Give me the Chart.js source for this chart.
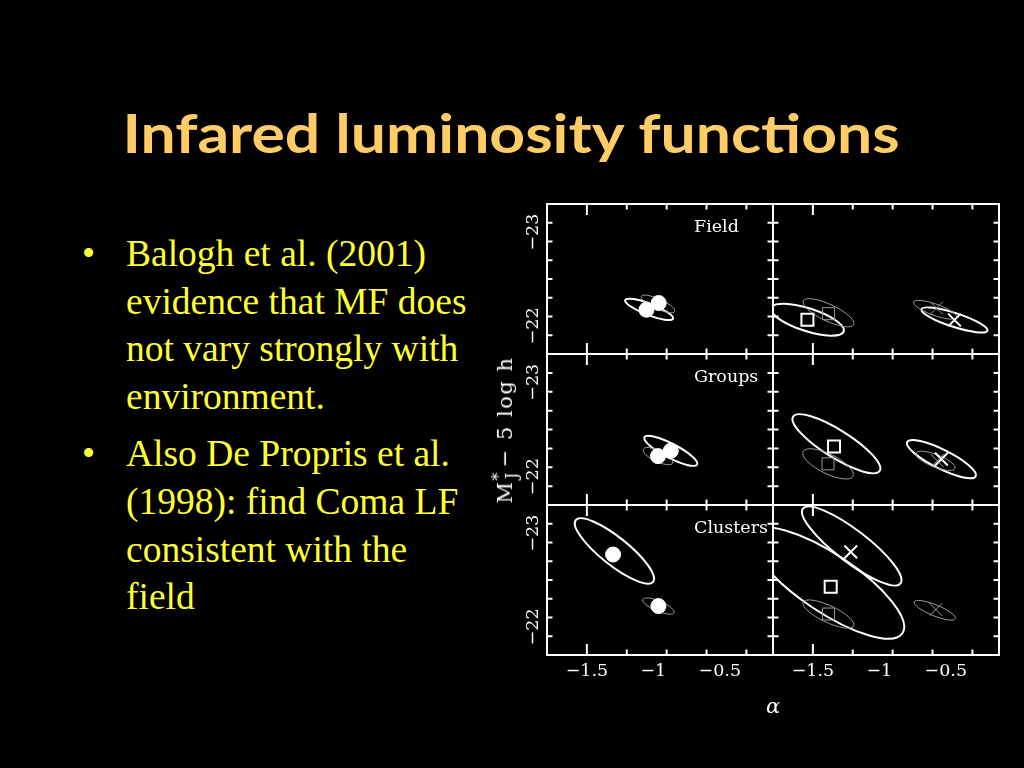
<!DOCTYPE html>
<html>
<head>
<meta charset="utf-8">
<script src="https://cdn.jsdelivr.net/npm/chart.js@4.4.0/dist/chart.umd.min.js"></script>
<style>
  html, body { margin: 0; padding: 0; background: #000; }
  body { width: 1024px; height: 768px; position: relative; overflow: hidden; }
  #title {
    position: absolute; left: 0; width: 1023px; top: 101px; text-align: center;
    color: #FFCC66; font-family: "Lato"; font-weight: bold; font-size: 53px; white-space: nowrap;
  }
  #title span { display: inline-block; }
  #bullets {
    position: absolute; left: 80px; top: 230px; margin: 0; padding: 0; list-style: none;
    font-family: "Liberation Serif"; font-size: 37.5px; line-height: 47.7px; color: #FFFF33; white-space: nowrap;
  }
  #bullets li { position: relative; padding-left: 46px; margin-bottom: 9.5px; }
  #bullets li::before { content: "\2022"; position: absolute; left: 2px; }
  #figure { position: absolute; left: 490px; top: 190px; width: 530px; height: 510px; }
  #figure canvas { position: absolute; left: 0; top: 0; }
  #ylab {
    position: absolute; left: 505px; top: 430px; transform: translate(-50%, -50%) rotate(-90deg);
    color: #fff; font-family: "DejaVu Serif"; font-size: 21px; letter-spacing: 1.5px; white-space: nowrap;
  }
  #ylab sup { font-size: 0.75em; }
  #ylab sub { font-size: 0.75em; margin-left: -0.5em; margin-right: 0.25em; }
  #xlab {
    position: absolute; left: 773px; top: 706px; transform: translate(-50%, -50%);
    color: #fff; font-family: "DejaVu Serif"; font-style: italic; font-size: 21px;
  }
</style>
</head>
<body>
<div id="title"><span id="titleText">Infared luminosity functions</span></div>
<ul id="bullets">
  <li>Balogh et al. (2001)<br>evidence that MF does<br>not vary strongly with<br>environment.</li>
  <li>Also De Propris et al.<br>(1998): find Coma LF<br>consistent with the<br>field</li>
</ul>
<div id="figure">
  <canvas id="p0" width="530" height="510"></canvas>
  <canvas id="p1" width="530" height="510"></canvas>
  <canvas id="p2" width="530" height="510"></canvas>
  <canvas id="p3" width="530" height="510"></canvas>
  <canvas id="p4" width="530" height="510"></canvas>
  <canvas id="p5" width="530" height="510"></canvas>
</div>
<div id="ylab">M<sup>*</sup><sub>J</sub>&minus; 5 log h</div>
<div id="xlab">&alpha;</div>
<script>
// ejes
const alphaRange = [-1.8, -0.1];
const magRange = [-23.3, -21.7];
const alphaTicks = [-1.5, -1, -0.5];
const magTicks = [-23, -22];
const panelNames = ["Field", "", "Groups", "", "Clusters", ""];

// circulos llenos (columna izquierda)
const dotPanel = [0, 0, 2, 2, 4, 4];
const dotAlpha = [-1.052, -0.960, -0.965, -0.869, -1.303, -0.962];
const dotMag = [-22.172, -22.244, -22.218, -22.274, -22.772, -22.222];

// cuadrados y cruces (columna derecha)
const markPanel = [1, 3, 5];
const boxAlpha = [-1.541, -1.341, -1.366];
const boxMag = [-22.066, -22.321, -22.428];
const thinBoxAlpha = [-1.382, -1.386, -1.383];
const thinBoxMag = [-22.130, -22.136, -22.137];
const crossAlpha = [-0.435, -0.533, -1.215];
const crossMag = [-22.063, -22.186, -22.800];
const thinCrossAlpha = [-0.570, -0.565, -0.575];
const thinCrossMag = [-22.190, -22.170, -22.185];

// elipses: centro, punta del eje mayor, razon b/a, gruesa o fina
const ellPanel = [0, 0, 1, 1, 1, 1, 2, 2, 3, 3, 3, 3, 4, 4, 5, 5, 5, 5];
const ellThick = [1, 0, 1, 0, 1, 0, 1, 0, 1, 0, 1, 0, 1, 0, 1, 1, 0, 0];
const ellAlpha = [-1.032, -0.965, -1.541, -1.383, -0.435, -0.581, -0.869, -0.965, -1.323, -1.386, -0.533, -0.578, -1.293, -0.962, -1.208, -1.388, -1.383, -0.583];
const ellMag = [-22.176, -22.234, -22.066, -22.140, -22.063, -22.172, -22.274, -22.218, -22.349, -22.136, -22.186, -22.168, -22.810, -22.222, -22.863, -22.467, -22.137, -22.177];
const ellTipAlpha = [-0.852, -0.839, -1.268, -1.193, -0.187, -0.420, -0.671, -0.854, -0.997, -1.198, -0.275, -0.431, -1.002, -0.844, -0.841, -0.826, -1.193, -0.428];
const ellTipMag = [-22.077, -22.154, -21.941, -22.013, -21.949, -22.090, -22.130, -22.145, -22.062, -22.005, -22.005, -22.087, -22.481, -22.151, -22.464, -21.932, -22.010, -22.087];
const ellRatio = [0.22, 0.28, 0.30, 0.30, 0.20, 0.25, 0.24, 0.35, 0.27, 0.35, 0.25, 0.30, 0.28, 0.30, 0.26, 0.32, 0.30, 0.25];

const WHITE = "#ffffff";
const GREY = "#9a9a9a";
const FIG_W = 530, FIG_H = 510;
const colLeft = [57, 283], colWidth = 226;
const rowTop = [14, 164, 315], rowBottom = [164, 315, 465];

// ajustar el titulo al ancho del original
const tt = document.getElementById("titleText");
tt.style.transform = "scaleX(" + (777 / tt.offsetWidth) + ")";

function pick(panel, panels, xs, ys) {
  const out = [];
  panels.forEach((p, i) => {
    if (p === panel) out.push({ x: xs[i], y: ys[i] });
  });
  return out;
}

const fmt = (v) => (v < 0 ? "\u2212" : "") + Math.abs(v);

const panelPlugin = {
  id: "panel",
  beforeDatasetsDraw(chart, args, opts) {
    const { ctx, chartArea: a, scales: { x, y } } = chart;
    ctx.save();
    ctx.beginPath();
    ctx.rect(a.left, a.top, a.right - a.left, a.bottom - a.top);
    ctx.clip();
    ellPanel.forEach((p, i) => {
      if (p !== opts.index) return;
      const cx = x.getPixelForValue(ellAlpha[i]);
      const cy = y.getPixelForValue(ellMag[i]);
      const tx = x.getPixelForValue(ellTipAlpha[i]);
      const ty = y.getPixelForValue(ellTipMag[i]);
      const r = Math.hypot(tx - cx, ty - cy);
      ctx.beginPath();
      ctx.ellipse(cx, cy, r, r * ellRatio[i], Math.atan2(ty - cy, tx - cx), 0, Math.PI * 2);
      ctx.strokeStyle = ellThick[i] ? WHITE : GREY;
      ctx.lineWidth = ellThick[i] ? 2 : 1;
      ctx.stroke();
    });
    ctx.restore();
  },
  afterDraw(chart, args, opts) {
    const { ctx, chartArea: a, scales: { x, y } } = chart;
    const idx = opts.index;
    ctx.save();
    ctx.strokeStyle = WHITE;
    ctx.lineWidth = 2;
    ctx.strokeRect(a.left, a.top, a.right - a.left, a.bottom - a.top);
    ctx.beginPath();
    x.ticks.forEach((t) => {
      const px = x.getPixelForValue(t.value);
      if (px <= a.left + 2 || px >= a.right - 2) return;
      const len = Math.abs(t.value * 2 - Math.round(t.value * 2)) < 1e-6 ? 11 : 5.5;
      ctx.moveTo(px, a.top); ctx.lineTo(px, a.top + len);
      ctx.moveTo(px, a.bottom); ctx.lineTo(px, a.bottom - len);
    });
    y.ticks.forEach((t) => {
      const py = y.getPixelForValue(t.value);
      if (py <= a.top + 2 || py >= a.bottom - 2) return;
      const len = Math.abs(t.value - Math.round(t.value)) < 1e-6 ? 11 : 5.5;
      ctx.moveTo(a.left, py); ctx.lineTo(a.left + len, py);
      ctx.moveTo(a.right, py); ctx.lineTo(a.right - len, py);
    });
    ctx.stroke();

    ctx.fillStyle = WHITE;
    if (panelNames[idx]) {
      ctx.font = '17.5px "DejaVu Serif"';
      ctx.textAlign = "left";
      ctx.textBaseline = "middle";
      ctx.fillText(panelNames[idx], a.left + 147, a.top + 23);
    }
    ctx.font = '17.5px "DejaVu Serif"';
    if (idx % 2 === 0) {
      magTicks.forEach((v) => {
        ctx.save();
        ctx.translate(a.left - 14, y.getPixelForValue(v));
        ctx.rotate(-Math.PI / 2);
        ctx.textAlign = "center";
        ctx.textBaseline = "middle";
        ctx.fillText(fmt(v), 0, 0);
        ctx.restore();
      });
    }
    if (idx >= 4) {
      ctx.textAlign = "center";
      ctx.textBaseline = "middle";
      alphaTicks.forEach((v) => {
        ctx.fillText(fmt(v), x.getPixelForValue(v), a.bottom + 16);
      });
    }
    ctx.restore();
  },
};

for (let p = 0; p < 6; p++) {
  const col = p % 2, row = Math.floor(p / 2);
  new Chart(document.getElementById("p" + p), {
    type: "scatter",
    data: {
      datasets: [
        {
          data: pick(p, dotPanel, dotAlpha, dotMag),
          pointStyle: "circle", pointRadius: 7.5,
          backgroundColor: WHITE, borderColor: WHITE, borderWidth: 1,
        },
        {
          data: pick(p, markPanel, thinBoxAlpha, thinBoxMag),
          pointStyle: "rect", pointRadius: 8.5,
          backgroundColor: "rgba(0,0,0,0)", borderColor: GREY, borderWidth: 1,
        },
        {
          data: pick(p, markPanel, thinCrossAlpha, thinCrossMag),
          pointStyle: "crossRot", pointRadius: 9,
          borderColor: GREY, borderWidth: 1,
        },
        {
          data: pick(p, markPanel, boxAlpha, boxMag),
          pointStyle: "rect", pointRadius: 8.5,
          backgroundColor: "rgba(0,0,0,0)", borderColor: WHITE, borderWidth: 2,
        },
        {
          data: pick(p, markPanel, crossAlpha, crossMag),
          pointStyle: "crossRot", pointRadius: 9,
          borderColor: WHITE, borderWidth: 2,
        },
      ],
    },
    options: {
      responsive: false,
      animation: false,
      events: [],
      layout: {
        padding: {
          left: colLeft[col],
          right: FIG_W - colLeft[col] - colWidth,
          top: rowTop[row],
          bottom: FIG_H - rowBottom[row],
        },
      },
      scales: {
        x: { type: "linear", min: alphaRange[0], max: alphaRange[1], ticks: { stepSize: 0.1 }, display: false },
        y: { type: "linear", min: magRange[0], max: magRange[1], reverse: true, ticks: { stepSize: 0.2 }, display: false },
      },
      plugins: {
        legend: { display: false },
        tooltip: { enabled: false },
        panel: { index: p },
      },
    },
    plugins: [panelPlugin],
  });
}
</script>
</body>
</html>
